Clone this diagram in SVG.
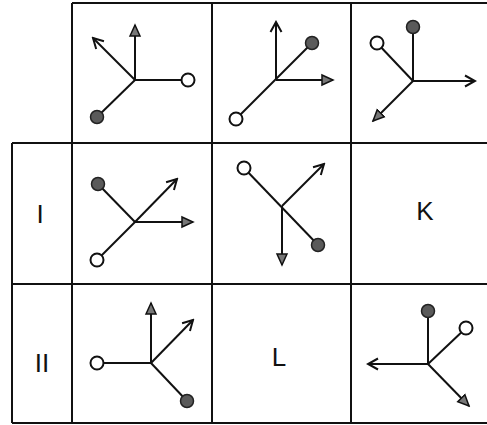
<svg xmlns="http://www.w3.org/2000/svg" width="487" height="425" viewBox="0 0 487 425">
<style>
.grid{stroke:#111;stroke-width:2;fill:none}
.ln{stroke:#111;stroke-width:2;fill:none}
.oa{marker-end:url(#open)}
.fa{marker-end:url(#filled)}
.oc{fill:#fff;stroke:#111;stroke-width:2}
.fc{fill:#5a5a5a;stroke:#222;stroke-width:1.5}
.lbl{font-family:"Liberation Sans",Arial,sans-serif;font-size:26px;fill:#111;text-anchor:middle}
</style>
<defs>
<marker id="open" markerUnits="userSpaceOnUse" markerWidth="14" markerHeight="14" viewBox="0 0 14 14" refX="12" refY="7" orient="auto">
<path d="M2,1.5 L12,7 L2,12.5" fill="none" stroke="#111" stroke-width="2"/>
</marker>
<marker id="filled" markerUnits="userSpaceOnUse" markerWidth="14" markerHeight="14" viewBox="0 0 14 14" refX="12" refY="7" orient="auto">
<path d="M1,2 L12,7 L1,12 Z" fill="#777" stroke="#111" stroke-width="1.5"/>
</marker>
</defs>
<g id="grid" class="grid">
<path d="M72,3 H487 M12,143 H487 M12,284 H487 M12,423 H487"/>
<path d="M72,3 V423 M212,3 V423 M351,3 V423 M12,143 V423"/>
</g>
<g id="cell-a">
<line class="ln fa" x1="135" y1="80" x2="135" y2="25"/>
<line class="ln oa" x1="135" y1="80" x2="93" y2="38"/>
<line class="ln" x1="135" y1="80" x2="188" y2="80"/>
<line class="ln" x1="135" y1="80" x2="97" y2="117"/>
<circle class="oc" cx="188" cy="80" r="6.5"/>
<circle class="fc" cx="97" cy="117" r="6.5"/>
</g>
<g id="cell-b">
<line class="ln oa" x1="276" y1="80" x2="276" y2="22"/>
<line class="ln fa" x1="276" y1="80" x2="333" y2="80"/>
<line class="ln" x1="312" y1="43" x2="236" y2="119"/>
<circle class="fc" cx="312" cy="43" r="6.5"/>
<circle class="oc" cx="236" cy="119" r="6.5"/>
</g>
<g id="cell-c">
<line class="ln" x1="413" y1="81" x2="413" y2="27"/>
<line class="ln" x1="413" y1="81" x2="377" y2="43"/>
<line class="ln oa" x1="413" y1="81" x2="475" y2="81"/>
<line class="ln fa" x1="413" y1="81" x2="373" y2="121"/>
<circle class="fc" cx="413" cy="27" r="6.5"/>
<circle class="oc" cx="377" cy="43" r="6.5"/>
</g>
<g id="label-i"><text class="lbl" x="40" y="223">I</text></g>
<g id="cell-i1">
<line class="ln" x1="135" y1="222" x2="98" y2="184"/>
<line class="ln" x1="135" y1="222" x2="97" y2="260"/>
<line class="ln oa" x1="135" y1="222" x2="177" y2="179"/>
<line class="ln fa" x1="135" y1="222" x2="193" y2="222"/>
<circle class="fc" cx="98" cy="184" r="6.5"/>
<circle class="oc" cx="97" cy="260" r="6.5"/>
</g>
<g id="cell-i2">
<line class="ln" x1="244" y1="168" x2="318" y2="245"/>
<line class="ln oa" x1="282" y1="206" x2="324" y2="164"/>
<line class="ln fa" x1="282" y1="206" x2="282" y2="265"/>
<circle class="oc" cx="244" cy="168" r="6.5"/>
<circle class="fc" cx="318" cy="245" r="6.5"/>
</g>
<g id="cell-k"><text class="lbl" x="425" y="220">K</text></g>
<g id="label-ii"><text class="lbl" x="42" y="372">II</text></g>
<g id="cell-ii1">
<line class="ln fa" x1="151" y1="363" x2="151" y2="303"/>
<line class="ln oa" x1="151" y1="363" x2="193" y2="320"/>
<line class="ln" x1="151" y1="363" x2="97" y2="363"/>
<line class="ln" x1="151" y1="363" x2="187" y2="401"/>
<circle class="oc" cx="97" cy="363" r="6.5"/>
<circle class="fc" cx="187" cy="401" r="6.5"/>
</g>
<g id="cell-l"><text class="lbl" x="279" y="366">L</text></g>
<g id="cell-ii3">
<line class="ln" x1="428" y1="364" x2="428" y2="311"/>
<line class="ln" x1="428" y1="364" x2="466" y2="328"/>
<line class="ln oa" x1="428" y1="364" x2="368" y2="364"/>
<line class="ln fa" x1="428" y1="364" x2="469" y2="406"/>
<circle class="fc" cx="428" cy="311" r="6.5"/>
<circle class="oc" cx="466" cy="328" r="6.5"/>
</g>
</svg>
